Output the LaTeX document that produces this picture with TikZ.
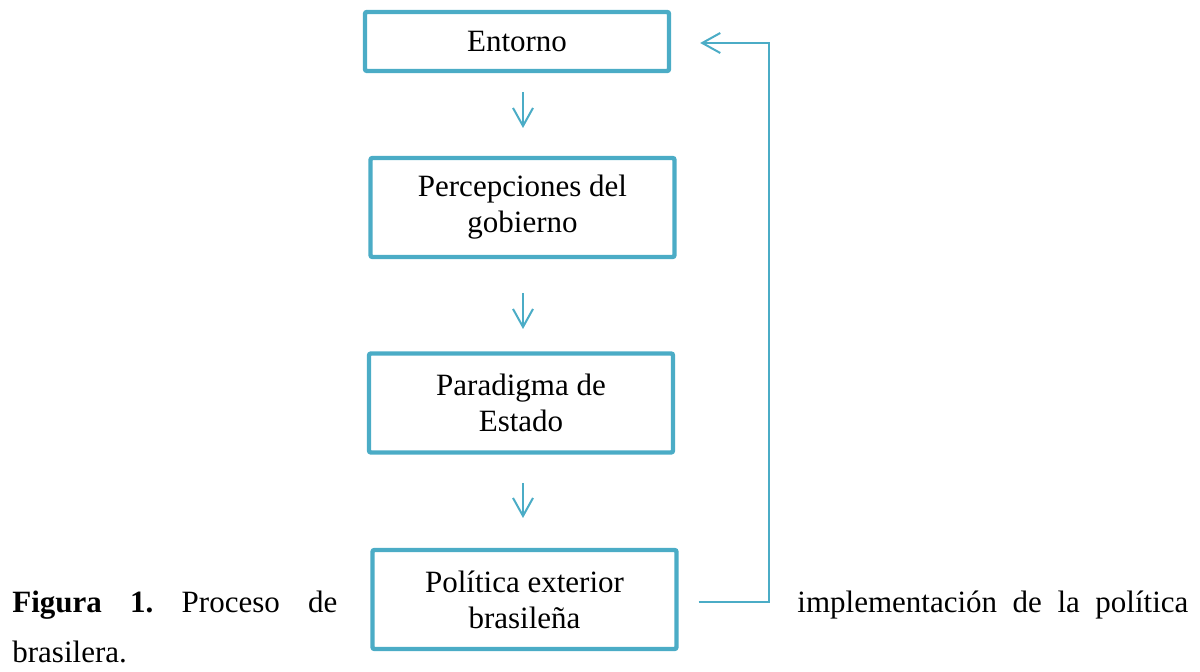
\documentclass[tikz,border=0pt]{standalone}
\usepackage{fontspec}
\setmainfont{Liberation Serif}
\usetikzlibrary{arrows.meta}
\definecolor{aqua}{HTML}{4BACC6}
\newcommand\boxfont{\fontsize{15.5pt}{18pt}\selectfont}
\begin{document}
\begin{tikzpicture}[
			x=0.5pt, y=-0.5pt,
			stage/.style={draw=aqua, line width=2.2pt, rounded corners=1pt, align=center, minimum width=152pt, inner sep=0pt, font=\boxfont},
			flow/.style={draw=aqua, line width=1pt, -{Straight Barb[length=9pt,width=10pt]}},
			caption/.style={anchor=base west, inner sep=0pt, font=\boxfont},
			]
			\useasboundingbox (0,0) rectangle (1200,672);
			\node[stage, minimum height=29.5pt] at (517,41.5) (entorno) {Entorno};
			\node[stage, minimum height=49.5pt] at (522.5,207.5) (percep) {Percepciones del\\gobierno};
			\node[stage, minimum height=49.5pt] at (521,403) (paradigma) {Paradigma de\\Estado};
			\node[stage, minimum height=49.5pt] at (524.5,599.5) (politica) {Política exterior\\brasileña};
			\coordinate (up1) at (523,92);
			\coordinate (down1) at (523,128);
			\coordinate (up2) at (523,293);
			\coordinate (down2) at (523,329);
			\coordinate (up3) at (523,483);
			\coordinate (down3) at (523,518);
			\node[caption] at (12,613) (capleft) {\hbox to 162.5pt{\textbf{Figura}\hfill\textbf{1.}\hfill Proceso\hfill de}};
			\node[caption] at (797,613) (capright) {\hbox to 195.5pt{implementación\hfill de\hfill la\hfill política}};
			\node[caption] at (12,663) (capnext) {brasilera.};
			\draw[flow] (up1) -- (down1);
			\draw[flow] (up2) -- (down2);
			\draw[flow] (up3) -- (down3);
			\draw[flow] ([xshift=10pt,yshift=-1.5pt]politica.east) -- ++(35pt,0) |- ([xshift=14.5pt,yshift=-0.75pt]entorno.east);
		\end{tikzpicture}
\end{document}
